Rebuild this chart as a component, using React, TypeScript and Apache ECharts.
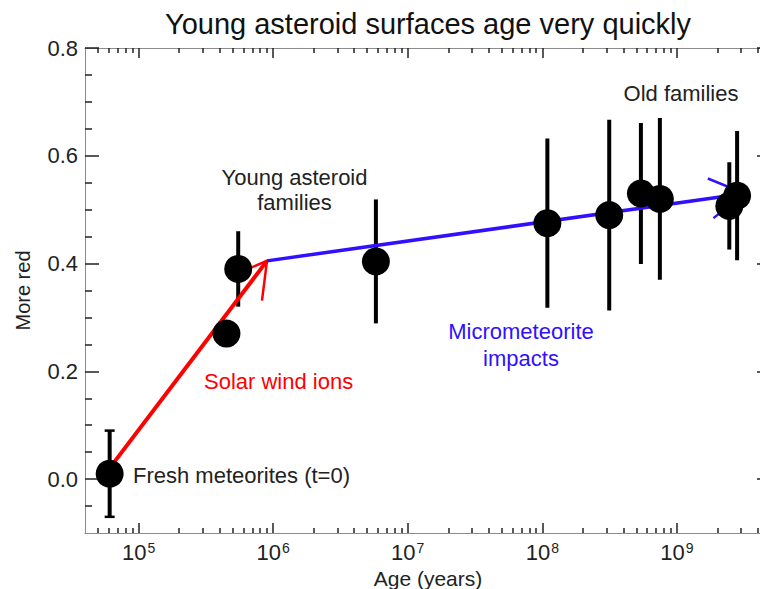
import React, { useEffect, useRef } from "react";
import * as echarts from "echarts";

// ---- data ----
const ages = [6.1e4, 4.5e5, 5.5e5, 5.8e6, 1.09e8, 3.14e8, 5.4e8, 7.47e8, 2.45e9, 2.8e9];
const redness = [0.01, 0.27, 0.39, 0.404, 0.475, 0.49, 0.53, 0.52, 0.507, 0.526];
const errors = [0.08, 0.02, 0.07, 0.115, 0.157, 0.177, 0.131, 0.15, 0.081, 0.12];
const errorCaps = [true, false, false, false, false, false, false, false, false, false];

const solarWindArrow = [6e4, 0.018, 9e5, 0.405];
const micrometeoriteArrow = [9e5, 0.405, 3.2e9, 0.53];

const xMajorTicks = [1e5, 1e6, 1e7, 1e8, 1e9];
const yMajorTicks = [0, 0.2, 0.4, 0.6, 0.8];

const X_MIN = 4e4;
const X_MAX = 5e9;
const Y_MIN = -0.1;
const Y_MAX = 0.8;

const titleText = "Young asteroid surfaces age very quickly";
const xName = "Age (years)";
const yName = "More red";

// minor ticks (axis decoration)
const xMinorTicks: number[] = [];
for (let e = 4; e <= 9; e++) {
  for (let k = 2; k <= 9; k++) {
    const v = k * Math.pow(10, e);
    if (v > X_MIN && v < X_MAX) xMinorTicks.push(v);
  }
}
const yMinorTicks: number[] = [];
for (let i = -1; i <= 15; i++) {
  const v = Math.round(i * 0.05 * 100) / 100;
  if (Math.abs((v / 0.2) - Math.round(v / 0.2)) > 1e-6) yMinorTicks.push(v);
}

const FONT = "'Liberation Sans', Arial, Helvetica, sans-serif";
const BLUE = "#3010ff";
const RED = "#ff0000";

export default function App() {
  const ref = useRef<HTMLDivElement>(null);
  useEffect(() => {
    if (!ref.current) return;
    const chart = echarts.init(ref.current, null, { renderer: "svg" });

    const xBase = (position: string, ticks: number[], len: number, withLine: boolean, labels: boolean, extra: any = {}) => ({
      type: "log",
      logBase: 10,
      min: X_MIN,
      max: X_MAX,
      position,
      gridIndex: 0,
      splitLine: { show: false },
      axisLine: { show: withLine, onZero: false, lineStyle: { color: "#8c8c8c", width: 1 } },
      axisTick: { show: true, inside: true, length: len, customValues: ticks, lineStyle: { color: "#222", width: 1.5 } },
      axisLabel: labels
        ? {
            show: true,
            customValues: ticks,
            margin: 8,
            color: "#222",
            fontFamily: FONT,
            fontSize: 22,
            hideOverlap: false,
            formatter: (v: number) => "10{sup|" + Math.round(Math.log10(v)) + "}",
            rich: {
              sup: { fontSize: 14, fontFamily: FONT, color: "#222", verticalAlign: "top", padding: [0, 0, 0, 1] },
            },
          }
        : { show: false },
      ...extra,
    });

    const yBase = (position: string, ticks: number[], len: number, withLine: boolean, labels: boolean, extra: any = {}) => ({
      type: "value",
      min: Y_MIN,
      max: Y_MAX,
      position,
      gridIndex: 0,
      splitLine: { show: false },
      axisLine: { show: withLine, onZero: false, lineStyle: { color: "#8c8c8c", width: 1 } },
      axisTick: { show: true, inside: true, length: len, customValues: ticks, lineStyle: { color: "#222", width: 1.5 } },
      axisLabel: labels
        ? {
            show: true,
            customValues: ticks,
            margin: 7,
            color: "#222",
            fontFamily: FONT,
            fontSize: 22,
            formatter: (v: number) => v.toFixed(1),
          }
        : { show: false },
      ...extra,
    });

    const errRows = ages.map((a, i) => [a, redness[i] - errors[i], redness[i] + errors[i], errorCaps[i] ? 1 : 0]);
    const points = ages.map((a, i) => [a, redness[i]]);

    const arrowRender = (width: number) => (params: any, api: any) => {
      const p0 = api.coord([api.value(0), api.value(1)]);
      const p1 = api.coord([api.value(2), api.value(3)]);
      const color = api.visual("color");
      const ang = Math.atan2(p1[1] - p0[1], p1[0] - p0[0]);
      const L = 40;
      const A = Math.PI / 6;
      const h1 = [p1[0] - L * Math.cos(ang - A), p1[1] - L * Math.sin(ang - A)];
      const h2 = [p1[0] - L * Math.cos(ang + A), p1[1] - L * Math.sin(ang + A)];
      return {
        type: "group",
        children: [
          { type: "line", shape: { x1: p0[0], y1: p0[1], x2: p1[0], y2: p1[1] }, style: { stroke: color, lineWidth: width, lineCap: "butt" } },
          { type: "polyline", shape: { points: [h1, p1, h2] }, style: { stroke: color, lineWidth: 2.5, fill: null } },
        ],
      };
    };

    const textEl = (text: string, x: number, y: number, color: string, align: string = "center") => ({
      type: "text",
      x,
      y,
      style: {
        text,
        fill: color,
        fontSize: 22,
        fontFamily: FONT,
        textAlign: align,
        textVerticalAlign: "middle",
        verticalAlign: "middle",
      },
      z: 10,
    });

    chart.setOption({
      animation: false,
      backgroundColor: "#ffffff",
      title: {
        text: titleText,
        left: 423,
        top: 4,
        textAlign: "center",
        textStyle: { fontFamily: FONT, fontSize: 29, fontWeight: "normal", color: "#111" },
      },
      grid: { left: 85, top: 48, width: 686, height: 485, containLabel: false, outerBoundsMode: "none", show: false },
      xAxis: [
        xBase("bottom", xMajorTicks, 10, true, true, {
          name: xName,
          nameLocation: "middle",
          nameGap: 32,
          nameTextStyle: { fontFamily: FONT, fontSize: 21, color: "#222" },
        }),
        xBase("top", xMajorTicks, 10, true, false),
        xBase("bottom", xMinorTicks, 5, false, false),
        xBase("top", xMinorTicks, 5, false, false),
      ],
      yAxis: [
        yBase("left", yMajorTicks, 14, true, true, {
          name: yName,
          nameLocation: "middle",
          nameGap: 52,
          nameRotate: 90,
          nameTextStyle: { fontFamily: FONT, fontSize: 20, color: "#222" },
        }),
        yBase("left", yMinorTicks, 7, false, false),
        yBase("right", yMajorTicks, 14, true, false),
        yBase("right", yMinorTicks, 7, false, false),
      ],
      series: [
        {
          type: "custom",
          name: "error bars",
          xAxisIndex: 0,
          yAxisIndex: 0,
          encode: { x: 0, y: [1, 2] },
          data: errRows,
          renderItem: (params: any, api: any) => {
            const x = api.value(0);
            const top = api.coord([x, api.value(2)]);
            const bot = api.coord([x, api.value(1)]);
            const children: any[] = [
              { type: "line", shape: { x1: top[0], y1: top[1], x2: bot[0], y2: bot[1] }, style: { stroke: "#000", lineWidth: 4 } },
            ];
            if (api.value(3) === 1) {
              children.push({ type: "line", shape: { x1: top[0] - 5, y1: top[1], x2: top[0] + 5, y2: top[1] }, style: { stroke: "#000", lineWidth: 2.5 } });
              children.push({ type: "line", shape: { x1: bot[0] - 5, y1: bot[1], x2: bot[0] + 5, y2: bot[1] }, style: { stroke: "#000", lineWidth: 2.5 } });
            }
            return { type: "group", children };
          },
        },
        {
          type: "scatter",
          name: "families",
          xAxisIndex: 0,
          yAxisIndex: 0,
          symbol: "circle",
          symbolSize: 28,
          itemStyle: { color: "#000", opacity: 1 },
          data: points,
        },
        {
          type: "custom",
          name: "Solar wind ions",
          xAxisIndex: 0,
          yAxisIndex: 0,
          itemStyle: { color: RED },
          encode: { x: [0, 2], y: [1, 3] },
          data: [solarWindArrow],
          renderItem: arrowRender(4),
        },
        {
          type: "custom",
          name: "Micrometeorite impacts",
          xAxisIndex: 0,
          yAxisIndex: 0,
          itemStyle: { color: BLUE },
          encode: { x: [0, 2], y: [1, 3] },
          data: [micrometeoriteArrow],
          renderItem: arrowRender(3.5),
        },
      ],
      graphic: [
        textEl("Fresh meteorites (t=0)", 133, 475, "#222", "left"),
        textEl("Solar wind ions", 204, 381, RED, "left"),
        textEl("Young asteroid", 294.5, 177, "#222"),
        textEl("families", 294.5, 202, "#222"),
        textEl("Micrometeorite", 521, 331, BLUE),
        textEl("impacts", 521, 358, BLUE),
        textEl("Old families", 681, 93.5, "#222"),
      ],
    });
    return () => chart.dispose();
  }, []);
  return <div ref={ref} style={{ position: "fixed", left: 0, top: 0, width: 760, height: 589, background: "#fff" }} />;
}
